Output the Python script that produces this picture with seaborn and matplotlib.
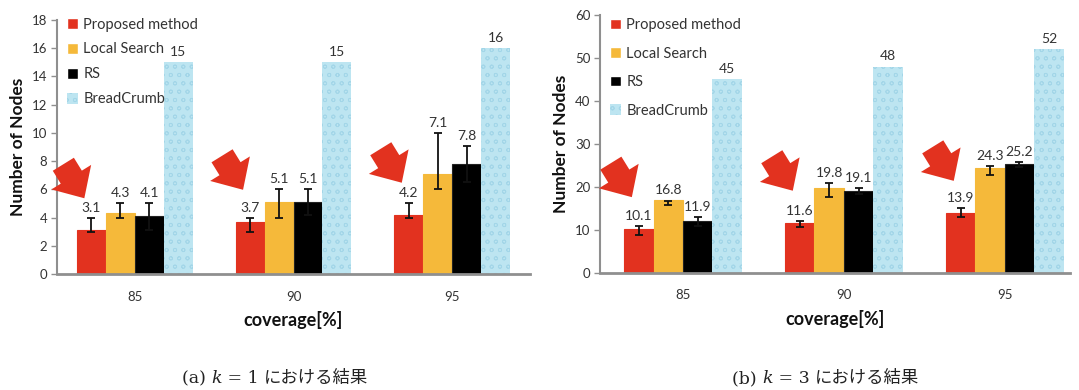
import numpy as np
import pandas as pd
import matplotlib
matplotlib.use("Agg")
import matplotlib.pyplot as plt
from matplotlib.patches import Patch
from matplotlib.offsetbox import TextArea, HPacker, AnnotationBbox
from matplotlib.transforms import ScaledTranslation
import seaborn as sns

# ---- data -------------------------------------------------------------
coverage = ["85", "90", "95"]
methods = ["Proposed method", "Local Search", "RS", "BreadCrumb"]

# k = 1
k1_proposed = [3.1, 3.7, 4.2]
k1_local = [4.3, 5.1, 7.1]
k1_rs = [4.1, 5.1, 7.8]
k1_breadcrumb = [15, 15, 16]
k1_proposed_lo = [2.95, 2.95, 4.0]
k1_proposed_hi = [4.0, 4.0, 5.0]
k1_local_lo = [4.0, 4.0, 6.0]
k1_local_hi = [5.05, 6.0, 10.0]
k1_rs_lo = [3.15, 4.2, 6.5]
k1_rs_hi = [5.05, 6.0, 9.1]

# k = 3
k3_proposed = [10.1, 11.6, 13.9]
k3_local = [16.8, 19.8, 24.3]
k3_rs = [11.9, 19.1, 25.2]
k3_breadcrumb = [45, 48, 52]
k3_proposed_lo = [8.7, 10.7, 13.0]
k3_proposed_hi = [10.9, 11.9, 15.0]
k3_local_lo = [15.8, 17.7, 22.7]
k3_local_hi = [16.6, 20.8, 24.9]
k3_rs_lo = [10.9, 18.4, 24.6]
k3_rs_hi = [12.9, 19.8, 25.8]

y_ticks_k1 = [0, 2, 4, 6, 8, 10, 12, 14, 16, 18]
y_ticks_k3 = [0, 10, 20, 30, 40, 50, 60]

# ---- style ------------------------------------------------------------
RED = "#e2321f"
YELLOW = "#f5b93a"
BLACK = "#000000"
BLUE = "#bde5f1"
DROP = "#a3d6e8"
palette = [RED, YELLOW, BLACK, BLUE]
TEXT = "#333333"
SPINE = "#8f8f8f"

sns.set_theme(style="white")
plt.rcParams["font.family"] = ["Lato", "DejaVu Sans"]
plt.rcParams["hatch.linewidth"] = 0.6

fig = plt.figure(figsize=(10.79, 3.90), dpi=100)
fig.patch.set_facecolor("white")

W, H = 1079, 390


def axes_px(left, right, top, bottom):
    return fig.add_axes([left / W, 1 - bottom / H, (right - left) / W, (bottom - top) / H])


ax1 = axes_px(57, 530, 20, 274)
ax2 = axes_px(600, 1070, 15, 272.5)


def draw_caption(x_px, letter, k):
    serif = dict(family="DejaVu Serif", size=12.5, color="#222222")
    parts = [
        TextArea(f"({letter}) ", textprops=serif),
        TextArea("k", textprops=dict(serif, style="italic")),
        TextArea(f" = {k} ", textprops=serif),
        TextArea("における結果", textprops=dict(family="Noto Sans CJK JP", size=12.5, color="#222222")),
    ]
    box = HPacker(children=parts, align="baseline", pad=0, sep=0)
    ab = AnnotationBbox(box, (x_px / W, 1 - 378 / H), xycoords="figure fraction",
                        frameon=False, box_alignment=(0.5, 0.5))
    fig.add_artist(ab)


def draw_panel(ax, series, lows, highs, ylim, yticks, xlim, legend_top, legend_spacing):
    df = pd.DataFrame({
        "coverage": np.tile(coverage, len(methods)),
        "method": np.repeat(methods, len(coverage)),
        "nodes": np.concatenate([np.asarray(s, float) for s in series]),
    })
    sns.barplot(data=df, x="coverage", y="nodes", hue="method",
                hue_order=methods, palette=palette, width=0.73, gap=0,
                errorbar=None, saturation=1, legend=False, ax=ax)
    bar_conts = list(ax.containers)

    # edges and droplet texture for the BreadCrumb series
    for i, cont in enumerate(bar_conts):
        for p in cont.patches:
            if i == 3:
                p.set_facecolor(BLUE)
                p.set_edgecolor(DROP)
                p.set_hatch("oo")
                p.set_linewidth(0)
            else:
                p.set_edgecolor(palette[i] if i != 2 else "#222222")
                p.set_linewidth(0.8)

    dpi_tr = fig.dpi_scale_trans

    def shifted(dx_px, dy_px):
        return ax.transData + ScaledTranslation(dx_px / 100, dy_px / 100, dpi_tr)

    # error bars (drawn as low-high ranges) and value labels
    for i, cont in enumerate(bar_conts):
        xs = np.array([p.get_x() + p.get_width() / 2 for p in cont.patches])
        vals = np.asarray(series[i], float)
        if i < 3:
            lo = np.asarray(lows[i], float)
            hi = np.asarray(highs[i], float)
            ax.errorbar(xs, (lo + hi) / 2, yerr=(hi - lo) / 2, fmt="none",
                        ecolor="#111111", elinewidth=1.3, capsize=3.2,
                        capthick=1.3, zorder=4)
            tops = np.maximum(hi, vals)
        else:
            tops = vals
        for x, t, v in zip(xs, tops, vals):
            label = f"{v:.1f}" if i < 3 else f"{v:.0f}"
            ax.text(x, t, label, transform=shifted(0, 4), ha="center",
                    va="bottom", fontsize=10, color=TEXT)

    # pointer arrows toward the proposed method's bars
    for p, v in zip(bar_conts[0].patches, series[0]):
        x = p.get_x() + p.get_width() / 2
        ax.annotate("", xy=(x, v), xycoords=shifted(-7, 32),
                    xytext=(x, v), textcoords=shifted(-28, 66),
                    arrowprops=dict(arrowstyle="simple,head_length=0.85,head_width=1.6,tail_width=0.85",
                                    color=RED, mutation_scale=21,
                                    shrinkA=0, shrinkB=0, lw=0),
                    zorder=5)

    ax.set_ylim(*ylim)
    ax.set_yticks(yticks)
    ax.set_xlim(*xlim)
    ax.set_xlabel("coverage[%]", fontsize=13, fontweight="bold", color="#111111", labelpad=6)
    ax.set_ylabel("Number of Nodes", fontsize=12.5, fontweight="bold", color="#111111", labelpad=4)
    ax.tick_params(axis="y", which="major", length=4, width=1, color=SPINE,
                   labelsize=9.5, labelcolor=TEXT, pad=3, left=True)
    ax.tick_params(axis="x", length=0, labelsize=9.5, labelcolor=TEXT, pad=12)
    for side in ("top", "right"):
        ax.spines[side].set_visible(False)
    ax.spines["left"].set_color(SPINE)
    ax.spines["left"].set_linewidth(1.5)
    ax.spines["bottom"].set_color(SPINE)
    ax.spines["bottom"].set_linewidth(2)

    handles = [Patch(facecolor=RED), Patch(facecolor=YELLOW), Patch(facecolor=BLACK),
               Patch(facecolor=BLUE, edgecolor=DROP, hatch="oo", linewidth=0)]
    ax.legend(handles, methods, loc="upper left", bbox_to_anchor=(0.0, legend_top),
              frameon=False, fontsize=10.5, handlelength=0.75, handleheight=0.75,
              handletextpad=0.35, labelspacing=legend_spacing, borderaxespad=0.3,
              labelcolor=TEXT)


draw_panel(ax1,
           [k1_proposed, k1_local, k1_rs, k1_breadcrumb],
           [k1_proposed_lo, k1_local_lo, k1_rs_lo],
           [k1_proposed_hi, k1_local_hi, k1_rs_hi],
           (0, 18), y_ticks_k1, (-0.49, 2.49), 1.05, 0.75)
draw_panel(ax2,
           [k3_proposed, k3_local, k3_rs, k3_breadcrumb],
           [k3_proposed_lo, k3_local_lo, k3_rs_lo],
           [k3_proposed_hi, k3_local_hi, k3_rs_hi],
           (0, 60), y_ticks_k3, (-0.515, 2.405), 1.028, 1.0)

draw_caption(275, "a", 1)
draw_caption(826, "b", 3)

fig.savefig("out.png", dpi=100, facecolor="white")
